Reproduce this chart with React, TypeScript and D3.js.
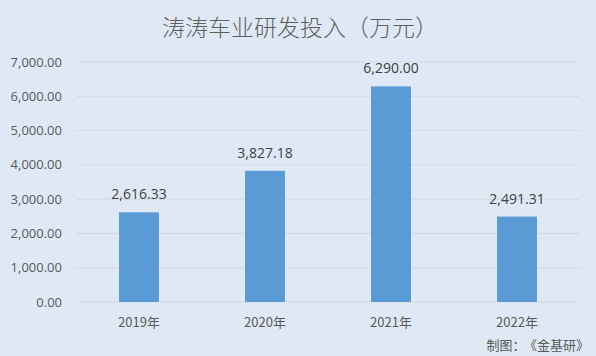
import React from "react";
import * as d3 from "d3";

const categories = ["2019年", "2020年", "2021年", "2022年"];
const values = [2616.33, 3827.18, 6290.0, 2491.31];
const yTicks = [0, 1000, 2000, 3000, 4000, 5000, 6000, 7000];
const title = "涛涛车业研发投入（万元）";
const footerA = "制图：";
const footerB = "《金基研》";

const W = 596;
const H = 356;
const margin = { left: 76, right: 16, top: 62, bottom: 54 };
const font = "'Noto Sans CJK SC', 'Noto Sans', sans-serif";
const numFont = "'Open Sans', 'Noto Sans', sans-serif";
const fmt = d3.format(",.2f");

export default function App() {
  const x = d3
    .scaleBand<string>()
    .domain(categories)
    .range([margin.left, W - margin.right])
    .paddingInner(0.683)
    .paddingOuter(0.3415);
  const y = d3.scaleLinear().domain([0, 7000]).range([H - margin.bottom, margin.top]);

  return (
    <svg
      width={W}
      height={H}
      style={{ position: "absolute", left: 0, top: 0, background: "#dee9f5" }}
      fontFamily={font}
    >
      <rect x={0} y={0} width={W} height={H} fill="#dee9f5" />
      <text x={W / 2 + 2} y={36} textAnchor="middle" fontSize={23} fill="#5f5f5f" fontWeight={300}>
        {title}
      </text>
      {yTicks.map((t) => (
        <g key={t}>
          <line
            x1={margin.left}
            x2={W - margin.right}
            y1={y(t)}
            y2={y(t)}
            stroke="#d5d9dd"
            strokeWidth={1}
          />
          <text
            x={62}
            y={y(t)}
            dy="0.35em"
            textAnchor="end"
            fontSize={13}
            fontFamily={numFont}
            fill="#595959"
          >
            {fmt(t)}
          </text>
        </g>
      ))}
      {categories.map((c, i) => {
        const bx = x(c)!;
        const bw = x.bandwidth();
        return (
          <g key={c}>
            <rect
              x={bx}
              y={y(values[i])}
              width={bw}
              height={y(0) - y(values[i])}
              fill="#5b9bd5"
            />
            <text
              x={bx + bw / 2}
              y={y(values[i]) - 13}
              textAnchor="middle"
              fontSize={14}
              fontFamily={numFont}
              fill="#404040"
            >
              {fmt(values[i])}
            </text>
            <text
              x={bx + bw / 2}
              y={y(0) + 25}
              textAnchor="middle"
              fontSize={13}
              fill="#595959"
            >
              {c}
            </text>
          </g>
        );
      })}
      <text x={589} y={350} textAnchor="end" fontSize={13} fill="#595959">
        {footerA}
        <tspan dx={5}>{footerB}</tspan>
      </text>
    </svg>
  );
}
